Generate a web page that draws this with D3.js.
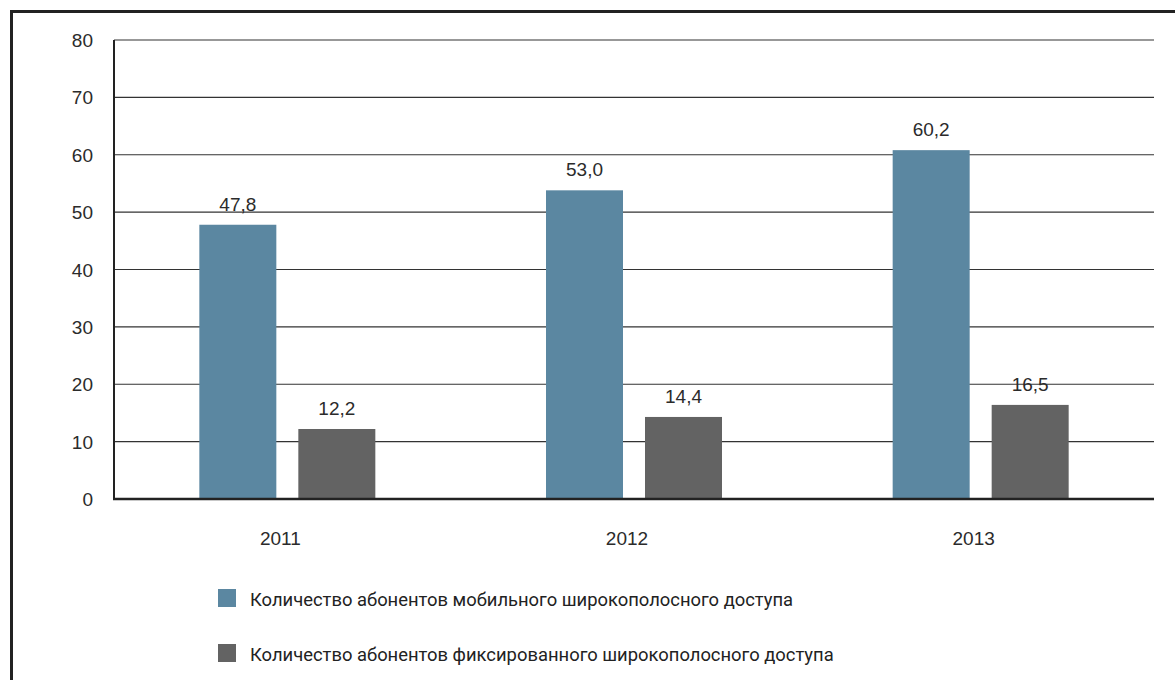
<!DOCTYPE html>
<html>
<head>
<meta charset="utf-8">
<script src="https://d3js.org/d3.v7.min.js"></script>
<style>
  body { margin: 0; background: #fff; }
  text { font-family: "Liberation Sans", Arial, sans-serif; fill: #2b2b2b; }
  .legend text { font-family: "Liberation Sans Narrow", "Roboto", sans-serif; }
</style>
</head>
<body>
<script>
const years = ["2011", "2012", "2013"];
// bar heights as drawn in the picture, and the printed labels
const mobile = [47.8, 53.8, 60.8];
const fixed = [12.2, 14.3, 16.4];
const mobileLabels = ["47,8", "53,0", "60,2"];
const fixedLabels = ["12,2", "14,4", "16,5"];
const seriesNames = [
  "Количество абонентов мобильного широкополосного доступа",
  "Количество абонентов фиксированного широкополосного доступа"
];
const colors = ["#5b87a1", "#636363"];
const yTicks = [0, 10, 20, 30, 40, 50, 60, 70, 80];

const W = 1175, H = 680;
const plotLeft = 114, plotRight = 1154, plotTop = 40, plotBottom = 499;

const svg = d3.select("body").append("svg").attr("width", W).attr("height", H);

// frame
svg.append("path")
  .attr("d", `M11.5,${H + 5} V11.5 H${W + 5}`)
  .attr("fill", "none").attr("stroke", "#222").attr("stroke-width", 3);

const x = d3.scaleBand().domain(years).range([plotLeft, plotRight]);
const y = d3.scaleLinear().domain([0, 80]).range([plotBottom, plotTop]);

// gridlines
svg.append("g").selectAll("line").data(yTicks.filter(d => d > 0)).join("line")
  .attr("x1", plotLeft).attr("x2", plotRight)
  .attr("y1", d => y(d)).attr("y2", d => y(d))
  .attr("stroke", "#333").attr("stroke-width", 1.2);

// y tick labels
svg.append("g").selectAll("text").data(yTicks).join("text")
  .attr("x", 93).attr("y", d => y(d) + 7)
  .attr("text-anchor", "end").attr("font-size", 19)
  .text(d => d);

const barW = 77, gap = 22;
[[mobile, mobileLabels], [fixed, fixedLabels]].forEach(([vals, labels], i) => {
  const off = i === 0 ? -(gap / 2 + barW) : gap / 2;
  const bx = d => x(d) + x.bandwidth() / 2 + off;
  svg.append("g").selectAll("rect").data(years).join("rect")
    .attr("x", bx).attr("width", barW)
    .attr("y", (d, j) => y(vals[j]))
    .attr("height", (d, j) => plotBottom - y(vals[j]))
    .attr("fill", colors[i]);
  svg.append("g").selectAll("text").data(years).join("text")
    .attr("x", d => bx(d) + barW / 2)
    .attr("y", (d, j) => y(vals[j]) - 14)
    .attr("text-anchor", "middle").attr("font-size", 19)
    .text((d, j) => labels[j]);
});

// axis lines
svg.append("line").attr("x1", plotLeft).attr("x2", plotLeft).attr("y1", plotTop).attr("y2", plotBottom)
  .attr("stroke", "#222").attr("stroke-width", 2);
svg.append("line").attr("x1", plotLeft - 1).attr("x2", plotRight).attr("y1", plotBottom).attr("y2", plotBottom)
  .attr("stroke", "#222").attr("stroke-width", 2.5);

// year labels
svg.append("g").selectAll("text").data(years).join("text")
  .attr("x", d => x(d) + x.bandwidth() / 2 - 7)
  .attr("y", 545)
  .attr("text-anchor", "middle").attr("font-size", 19)
  .text(d => d);

// legend
const lg = svg.append("g").attr("class", "legend");
seriesNames.forEach((name, i) => {
  const ly = 589 + i * 55;
  lg.append("rect").attr("x", 218).attr("y", ly).attr("width", 18).attr("height", 18)
    .attr("fill", colors[i]);
  lg.append("text").attr("x", 250).attr("y", ly + 17)
    .attr("font-size", 18.4).style("fill", "#222")
    .text(name);
});
</script>
</body>
</html>
